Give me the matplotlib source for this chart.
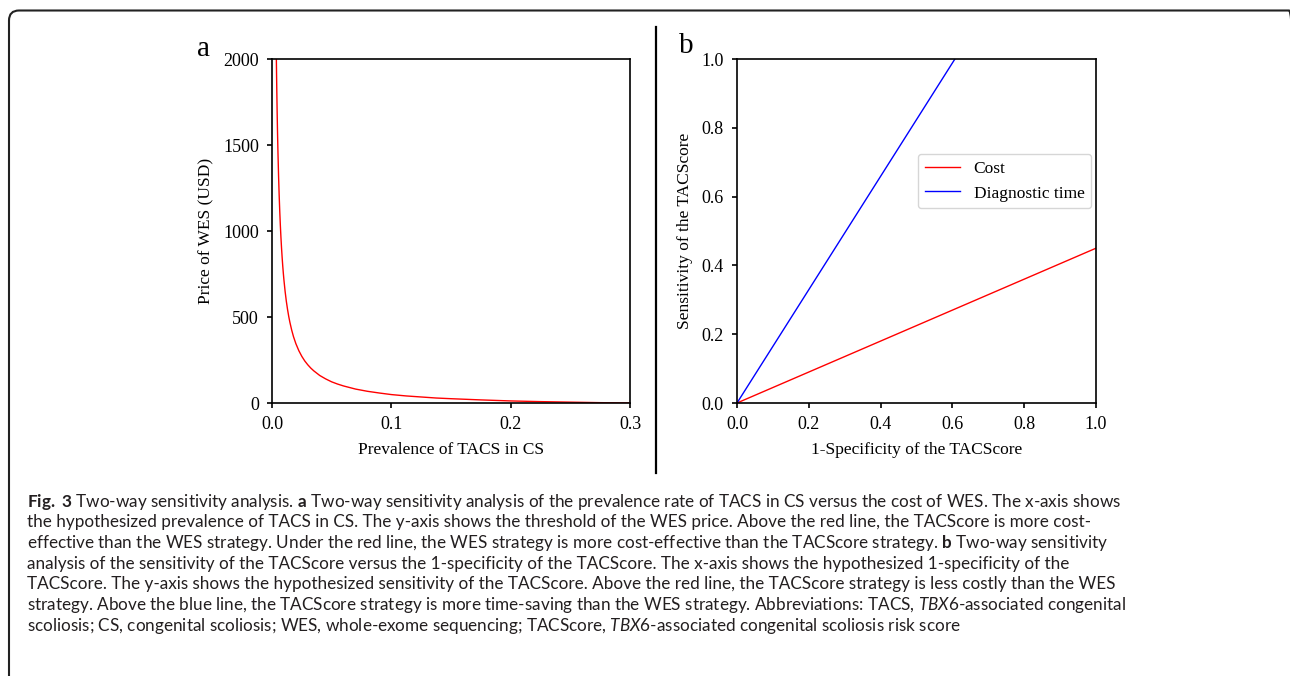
import numpy as np
import matplotlib
matplotlib.use("Agg")
import matplotlib.pyplot as plt
from matplotlib.patches import FancyBboxPatch
from matplotlib.transforms import IdentityTransform

# panel a: WES price threshold vs prevalence
prev = [0.0036, 0.0038, 0.004, 0.0043, 0.0046, 0.005, 0.0055, 0.006, 0.0065,
        0.007, 0.0075, 0.008, 0.0085, 0.009, 0.0095, 0.010, 0.011, 0.012, 0.013,
        0.014, 0.015, 0.0165, 0.018, 0.020, 0.0225, 0.025, 0.0275, 0.030, 0.0325,
        0.035, 0.040, 0.045, 0.050, 0.055, 0.060, 0.070, 0.080, 0.090, 0.100,
        0.1125, 0.125, 0.1375, 0.150, 0.175, 0.200, 0.225, 0.250, 0.275, 0.300]
price = [2030, 1922, 1825, 1696, 1582, 1455, 1321, 1209, 1114,
         1032, 962, 900, 846, 797, 754, 715, 648, 592, 545,
         504, 469, 424, 386, 345, 304, 271, 244, 222, 203,
         187, 160, 140, 123, 110, 99, 81, 68, 58, 49,
         41, 35, 29, 25, 18, 12, 8, 5, 2, 0]

# panel b: threshold lines
spec_cost = [0.0, 1.0]
sens_cost = [0.0, 0.45]
spec_time = [0.0, 0.607]
sens_time = [0.0, 1.0]

x_ticks_a = [0.0, 0.1, 0.2, 0.3]
y_ticks_a = [0, 500, 1000, 1500, 2000]
ticks_b = [0.0, 0.2, 0.4, 0.6, 0.8, 1.0]

caption = [
    r"$\mathbf{Fig.\ 3}$ Two-way sensitivity analysis. $\mathbf{a}$ Two-way sensitivity analysis of the prevalence rate of TACS in CS versus the cost of WES. The x-axis shows",
    "the hypothesized prevalence of TACS in CS. The y-axis shows the threshold of the WES price. Above the red line, the TACScore is more cost-",
    r"effective than the WES strategy. Under the red line, the WES strategy is more cost-effective than the TACScore strategy. $\mathbf{b}$ Two-way sensitivity",
    "analysis of the sensitivity of the TACScore versus the 1-specificity of the TACScore. The x-axis shows the hypothesized 1-specificity of the",
    "TACScore. The y-axis shows the hypothesized sensitivity of the TACScore. Above the red line, the TACScore strategy is less costly than the WES",
    r"strategy. Above the blue line, the TACScore strategy is more time-saving than the WES strategy. Abbreviations: TACS, $\mathit{TBX6}$-associated congenital",
    r"scoliosis; CS, congenital scoliosis; WES, whole-exome sequencing; TACScore, $\mathit{TBX6}$-associated congenital scoliosis risk score",
]

plt.rcParams['font.family'] = ['Liberation Serif', 'DejaVu Serif']
plt.rcParams['font.size'] = 12.5
plt.rcParams['xtick.labelsize'] = 13
plt.rcParams['ytick.labelsize'] = 13
plt.rcParams['xtick.major.pad'] = 6
plt.rcParams['ytick.major.pad'] = 6
plt.rcParams['axes.linewidth'] = 1.2
plt.rcParams['xtick.major.width'] = 1.2
plt.rcParams['ytick.major.width'] = 1.2
plt.rcParams['mathtext.fontset'] = 'custom'
plt.rcParams['mathtext.rm'] = 'Lato'
plt.rcParams['mathtext.bf'] = 'Lato:bold'
plt.rcParams['mathtext.it'] = 'Lato:italic'

W, H = 1290, 676
fig = plt.figure(figsize=(W / 100, H / 100), dpi=100)

ax1 = fig.add_axes([272 / W, 1 - 403 / H, 358 / W, 344 / H])
ax1.plot(prev, price, color='red', lw=1.0)
ax1.set_xlim(0, 0.3)
ax1.set_ylim(0, 2000)
ax1.set_xticks(x_ticks_a)
ax1.set_yticks(y_ticks_a)
ax1.set_xlabel('Prevalence of TACS in CS', labelpad=6)
ax1.set_ylabel('Price of WES (USD)', labelpad=6)

ax2 = fig.add_axes([737 / W, 1 - 403 / H, 359 / W, 344 / H])
ax2.plot(spec_cost, sens_cost, color='red', lw=1.0, label='Cost')
ax2.plot(spec_time, sens_time, color='blue', lw=1.0, label='Diagnostic time')
ax2.set_xlim(0, 1)
ax2.set_ylim(0, 1)
ax2.set_xticks(ticks_b)
ax2.set_yticks(ticks_b)
ax2.set_xlabel('1-Specificity of the TACScore', labelpad=6)
ax2.set_ylabel('Sensitivity of the TACScore', labelpad=6)
ax2.legend(loc='upper right', bbox_to_anchor=(0.987, 0.725), borderaxespad=0,
           fancybox=True, framealpha=0.8, edgecolor='#cccccc', fontsize=12.5)

fig.text(203 / W, 1 - 49 / H, 'a', fontsize=21, ha='center', va='center')
fig.text(686 / W, 1 - 46 / H, 'b', fontsize=21, ha='center', va='center')

# divider between panels
fig.add_artist(plt.Line2D([656 / W, 656 / W], [1 - 27 / H, 1 - 473 / H],
                          color='black', lw=1.6))

# outer rounded frame
frame = FancyBboxPatch((9, -30), 1290, H - 10.5 + 30,
                       boxstyle='round,pad=0,rounding_size=10',
                       transform=IdentityTransform(), fill=False,
                       edgecolor='#222222', lw=1.5)
fig.add_artist(frame)

ys = [502, 522.5, 543, 564, 584.5, 605, 625.5]
for y, line in zip(ys, caption):
    fig.text(27 / W, 1 - y / H, line, fontsize=12.35, family='Lato',
             color='#231f20', ha='left', va='center')

fig.savefig('out.png', dpi=100)
